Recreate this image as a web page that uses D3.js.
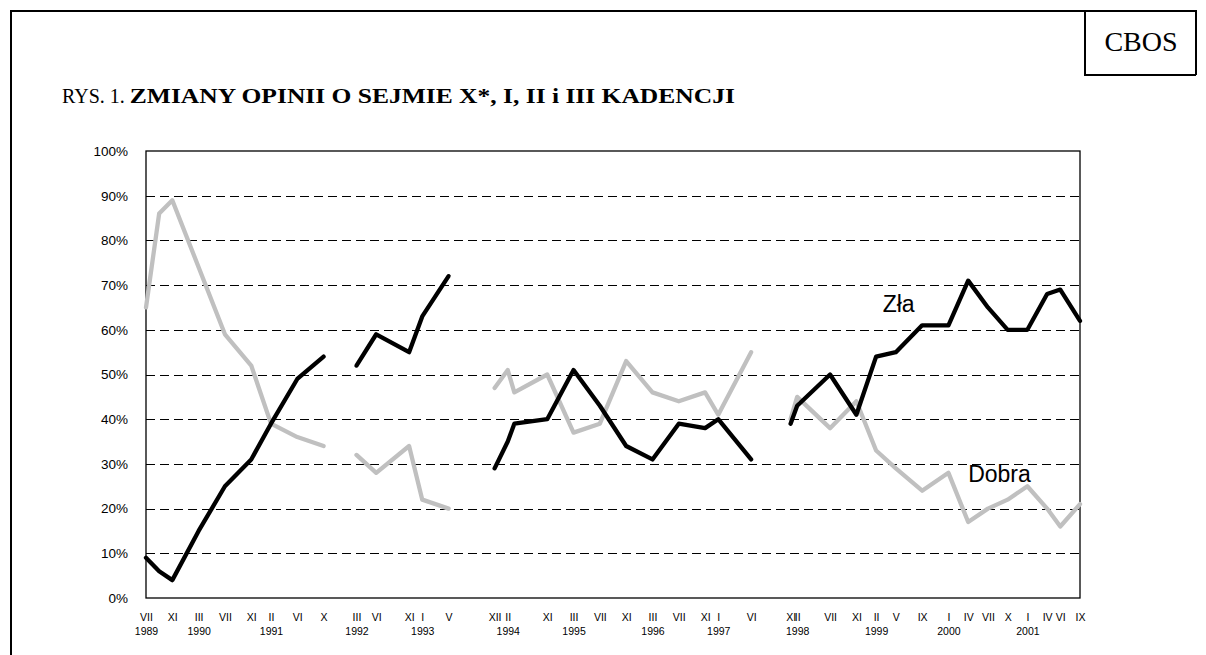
<!DOCTYPE html>
<html>
<head>
<meta charset="utf-8">
<script src="https://cdnjs.cloudflare.com/ajax/libs/d3/7.8.5/d3.min.js"></script>
<style>
  body { margin: 0; background: #fff; }
  svg { display: block; }
</style>
</head>
<body>
<svg id="chart" width="1206" height="655"></svg>
<script>
// numer wiersza (kategorii) na osi X dla kazdego badania
const wiersz = [0, 2, 4, 8, 12, 16, 19, 23, 27,
  32, 35, 40, 42, 46,
  53, 55, 56, 61, 65, 69, 73, 77, 81, 85, 87, 92,
  98, 99, 104, 108, 111, 114, 118, 122, 125, 128, 131, 134, 137, 139, 142];

// kadencja sejmu - linia przerywa sie miedzy kadencjami
const kadencja = ["X", "X", "X", "X", "X", "X", "X", "X", "X",
  "I", "I", "I", "I", "I",
  "II", "II", "II", "II", "II", "II", "II", "II", "II", "II", "II", "II",
  "III", "III", "III", "III", "III", "III", "III", "III", "III", "III", "III", "III", "III", "III", "III"];

// etykiety osi X (miesiac / rok)
const miesiac = ["VII", "", "XI", "III", "VII", "XI", "II", "VI", "X",
  "III", "VI", "XI", "I", "V",
  "XII", "II", "", "XI", "III", "VII", "XI", "III", "VII", "XI", "I", "VI",
  "XI", "II", "VII", "XI", "II", "V", "IX", "I", "IV", "VII", "X", "I", "IV", "VI", "IX"];
const rok = ["1989", "", "", "1990", "", "", "1991", "", "",
  "1992", "", "", "1993", "",
  "", "1994", "", "", "1995", "", "", "1996", "", "", "1997", "",
  "", "1998", "", "", "1999", "", "", "2000", "", "", "", "2001", "", "", ""];

// oceny sejmu w %
const zla = [9, 6, 4, 15, 25, 31, 39, 49, 54,
  52, 59, 55, 63, 72,
  29, 35, 39, 40, 51, 43, 34, 31, 39, 38, 40, 31,
  39, 43, 50, 41, 54, 55, 61, 61, 71, 65, 60, 60, 68, 69, 62];
const dobra = [65, 86, 89, 74, 59, 52, 39, 36, 34,
  32, 28, 34, 22, 20,
  47, 51, 46, 50, 37, 39, 53, 46, 44, 46, 41, 55,
  40, 45, 38, 44, 33, 29, 24, 28, 17, 20, 22, 25, 20, 16, 21];

const yTicks = [0, 0.1, 0.2, 0.3, 0.4, 0.5, 0.6, 0.7, 0.8, 0.9, 1];

const svg = d3.select("#chart");

// ramka strony
svg.append("path")
    .attr("d", "M11,655 L11,11 L1196,11 L1196,75")
    .attr("fill", "none")
    .attr("stroke", "#000")
    .attr("stroke-width", 2);
svg.append("path")
    .attr("d", "M1085,11 L1085,75 L1196,75")
    .attr("fill", "none")
    .attr("stroke", "#000")
    .attr("stroke-width", 2);
svg.append("text")
    .attr("x", 1141)
    .attr("y", 51)
    .attr("text-anchor", "middle")
    .style("font-family", "'Liberation Serif', 'Times New Roman', serif")
    .style("font-size", "28px")
    .text("CBOS");

// tytul - czesc pogrubiona w oryginale jest szersza
const title = svg.append("text")
    .attr("x", 62)
    .attr("y", 103)
    .style("font-family", "'Liberation Serif', 'Times New Roman', serif")
    .style("font-size", "20px");
title.append("tspan").text("RYS. 1. ");
title.append("tspan")
    .style("font-weight", "bold")
    .attr("textLength", 605)
    .attr("lengthAdjust", "spacingAndGlyphs")
    .text("ZMIANY OPINII O SEJMIE X*, I, II i III KADENCJI");

const x = d3.scaleLinear().domain([0, 142]).range([146, 1080]);
const y = d3.scaleLinear().domain([0, 1]).range([598, 151]);

// linie siatki
svg.append("g")
    .selectAll("line")
    .data(yTicks.filter(d => d > 0 && d < 1))
    .enter().append("line")
    .attr("x1", x(0))
    .attr("x2", x(142))
    .attr("y1", d => Math.round(y(d)) + 0.5)
    .attr("y2", d => Math.round(y(d)) + 0.5)
    .attr("stroke", "#000")
    .attr("stroke-width", 1)
    .attr("stroke-dasharray", "9,5");

// obszar wykresu
svg.append("rect")
    .attr("x", x(0))
    .attr("y", y(1))
    .attr("width", x(142) - x(0))
    .attr("height", y(0) - y(1))
    .attr("fill", "none")
    .attr("stroke", "#000")
    .attr("stroke-width", 1.3);

// os Y
const yAxis = svg.append("g")
    .attr("transform", `translate(${x(0)},0)`)
    .call(d3.axisLeft(y).tickValues(yTicks).tickFormat(d3.format(".0%")).tickSize(0).tickPadding(18));
yAxis.select(".domain").remove();
yAxis.selectAll("text")
    .style("font-family", "'Liberation Sans', Arial, sans-serif")
    .style("font-size", "13.5px")
    .attr("fill", "#000");

// os X - dwa wiersze etykiet
const xAxis = svg.append("g")
    .attr("transform", `translate(0,${y(0)})`)
    .call(d3.axisBottom(x).tickValues(wiersz).tickFormat((d, i) => miesiac[i]).tickSize(0).tickPadding(15.5));
xAxis.select(".domain").remove();
xAxis.selectAll("text")
    .style("font-family", "'Liberation Sans', Arial, sans-serif")
    .style("font-size", "10.5px")
    .attr("fill", "#000");
xAxis.selectAll(".tick")
    .append("text")
    .attr("y", 29.5)
    .attr("dy", "0.71em")
    .attr("text-anchor", "middle")
    .style("font-family", "'Liberation Sans', Arial, sans-serif")
    .style("font-size", "10.5px")
    .attr("fill", "#000")
    .text((d, i) => rok[i]);

// dane jako obiekty, pogrupowane po kadencjach
const punkty = wiersz.map((w, i) => ({ w: w, k: kadencja[i], zla: zla[i] / 100, dobra: dobra[i] / 100 }));
const grupy = Array.from(d3.group(punkty, d => d.k).values());

const serie = [
  { klucz: "dobra", kolor: "#c0c0c0" },
  { klucz: "zla", kolor: "#000" }
];

serie.forEach(s => {
  const line = d3.line()
      .x(d => x(d.w))
      .y(d => y(d[s.klucz]));
  svg.append("g")
      .selectAll("path")
      .data(grupy)
      .enter().append("path")
      .attr("d", line)
      .attr("fill", "none")
      .attr("stroke", s.kolor)
      .attr("stroke-width", 4.3)
      .attr("stroke-linejoin", "round")
      .attr("stroke-linecap", "round");
});

// podpisy serii
svg.append("text")
    .attr("x", x(112))
    .attr("y", y(0.64))
    .style("font-family", "'Liberation Sans', Arial, sans-serif")
    .style("font-size", "23px")
    .text("Zła");
svg.append("text")
    .attr("x", x(125))
    .attr("y", y(0.26))
    .style("font-family", "'Liberation Sans', Arial, sans-serif")
    .style("font-size", "23px")
    .text("Dobra");
</script>
</body>
</html>
